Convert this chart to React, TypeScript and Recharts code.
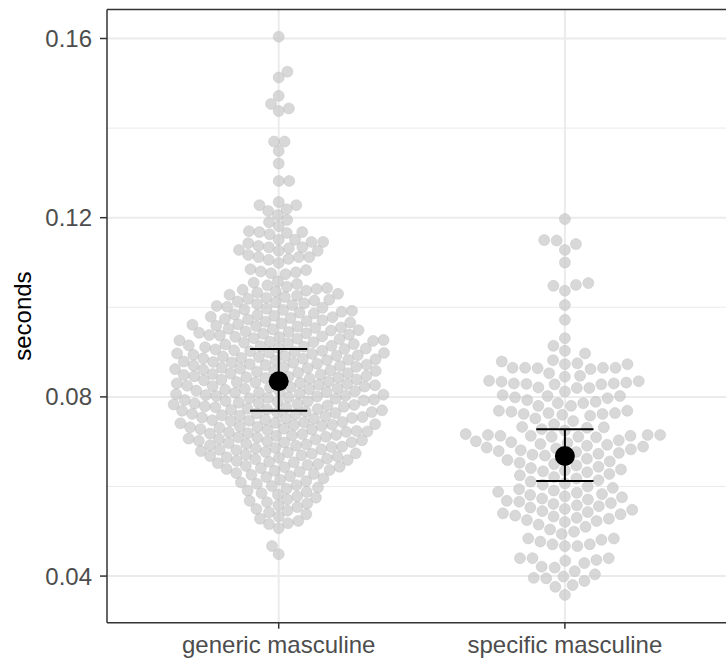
import React from "react";
import {
  ScatterChart,
  Scatter,
  XAxis,
  YAxis,
  CartesianGrid,
  ReferenceLine,
} from "recharts";

// conditions on the x axis
const conditions = ["generic masculine", "specific masculine"];

const genericSeconds = [
  0.1604, 0.1526, 0.1513, 0.1472, 0.1454, 0.1444, 0.1438, 0.137, 0.137, 0.1349,
  0.1321, 0.1282, 0.1282, 0.1235, 0.1228, 0.1228, 0.1219, 0.1215, 0.1206, 0.1195,
  0.119, 0.1181, 0.117, 0.1168, 0.1168, 0.1166, 0.1163, 0.1151, 0.1151, 0.1146,
  0.1146, 0.1143, 0.1137, 0.1134, 0.1134, 0.1132, 0.1128, 0.1126, 0.1126, 0.1117,
  0.1112, 0.1112, 0.1112, 0.1108, 0.1106, 0.1099, 0.1085, 0.1083, 0.108, 0.1078,
  0.1076, 0.1074,
  0.1058, 0.1055, 0.1052, 0.1049, 0.1046, 0.1043, 0.1041,
  0.1039, 0.1037, 0.1035, 0.1033, 0.103, 0.1028, 0.1026, 0.1023, 0.1021,
  0.1019, 0.1017, 0.1015, 0.1013, 0.1011, 0.1009, 0.1007, 0.1005, 0.1003, 0.1001,
  0.0999, 0.0997, 0.0995, 0.0994, 0.0992, 0.099, 0.0988, 0.0986, 0.0984, 0.0983, 0.0981,
  0.0979, 0.0978, 0.0976, 0.0974, 0.0973, 0.0971, 0.0969, 0.0968, 0.0966, 0.0964, 0.0962, 0.0961,
  0.0959, 0.0958, 0.0957, 0.0955, 0.0954, 0.0952, 0.0951, 0.0949, 0.0948, 0.0946, 0.0945, 0.0943,
  0.0942, 0.0941,
  0.0939, 0.0938, 0.0937, 0.0935, 0.0934, 0.0933, 0.0931, 0.093, 0.0929, 0.0927, 0.0926, 0.0925,
  0.0923, 0.0922, 0.0921,
  0.0919, 0.0918, 0.0917, 0.0915, 0.0914, 0.0913, 0.0912, 0.0911, 0.0909, 0.0908, 0.0907, 0.0906,
  0.0904, 0.0903, 0.0902, 0.0901,
  0.0899, 0.0898, 0.0897, 0.0896, 0.0894, 0.0893, 0.0892, 0.0891, 0.089, 0.0889, 0.0887, 0.0886,
  0.0885, 0.0884, 0.0883, 0.0882, 0.0881,
  0.0879, 0.0878, 0.0877, 0.0876, 0.0874, 0.0873, 0.0872, 0.0871, 0.087, 0.0869, 0.0867, 0.0866,
  0.0865, 0.0864, 0.0863, 0.0862, 0.0861,
  0.0859, 0.0858, 0.0857, 0.0856, 0.0854, 0.0853, 0.0852, 0.0851, 0.085, 0.0849, 0.0847, 0.0846,
  0.0845, 0.0844, 0.0843, 0.0842, 0.0841,
  0.0839, 0.0838, 0.0837, 0.0836, 0.0834, 0.0833, 0.0832, 0.0831, 0.083, 0.0829, 0.0827, 0.0826,
  0.0825, 0.0824, 0.0823, 0.0822, 0.0821,
  0.0819, 0.0818, 0.0817, 0.0816, 0.0814, 0.0813, 0.0812, 0.0811, 0.081, 0.0809, 0.0807, 0.0806,
  0.0805, 0.0804, 0.0803, 0.0802, 0.0801,
  0.0799, 0.0798, 0.0797, 0.0796, 0.0794, 0.0793, 0.0792, 0.0791, 0.079, 0.0789, 0.0787, 0.0786,
  0.0785, 0.0784, 0.0783, 0.0782, 0.0781,
  0.0779, 0.0778, 0.0777, 0.0776, 0.0774, 0.0773, 0.0772, 0.0771, 0.077, 0.0769, 0.0767, 0.0766,
  0.0765, 0.0764, 0.0763, 0.0762, 0.0761,
  0.0759, 0.0758, 0.0757, 0.0755, 0.0754, 0.0753, 0.0752, 0.0751, 0.0749, 0.0748, 0.0747, 0.0746,
  0.0744, 0.0743, 0.0742, 0.0741,
  0.0739, 0.0738, 0.0737, 0.0735, 0.0734, 0.0733, 0.0732, 0.0731, 0.0729, 0.0728, 0.0727, 0.0726,
  0.0724, 0.0723, 0.0722, 0.0721,
  0.0719, 0.0718, 0.0717, 0.0715, 0.0714, 0.0713, 0.0711, 0.071, 0.0709, 0.0707, 0.0706, 0.0705,
  0.0703, 0.0702, 0.0701,
  0.0699, 0.0698, 0.0697, 0.0695, 0.0694, 0.0692, 0.0691, 0.0689, 0.0688, 0.0686, 0.0685, 0.0683,
  0.0682, 0.0681,
  0.0679, 0.0677, 0.0676, 0.0674, 0.0673, 0.0671, 0.067, 0.0668, 0.0667, 0.0665, 0.0664, 0.0662, 0.0661,
  0.0659, 0.0657, 0.0655, 0.0654, 0.0652, 0.065, 0.0648, 0.0646, 0.0644, 0.0643, 0.0641,
  0.0639, 0.0637, 0.0635, 0.0633, 0.063, 0.0628, 0.0626, 0.0623, 0.0621,
  0.0618, 0.0615, 0.0612, 0.0609, 0.0606, 0.0603, 0.0601,
  0.0598, 0.0595, 0.0591, 0.0588, 0.0585, 0.0582,
  0.0578, 0.0575, 0.0571, 0.0568, 0.0565, 0.0562,
  0.0558, 0.0554, 0.055, 0.0546, 0.0542,
  0.0538, 0.0533, 0.0528, 0.0523,
  0.0518, 0.0516, 0.0507,
  0.0467, 0.0449,
];

const specificSeconds = [
  0.1197, 0.115, 0.1149, 0.1141, 0.1128, 0.11, 0.1054, 0.105, 0.1048, 0.1037,
  0.1005, 0.0972, 0.0931, 0.0914, 0.0903,
  0.0897, 0.0882, 0.0879, 0.0875, 0.0873, 0.0873, 0.0865, 0.0865, 0.0865, 0.0865,
  0.0864, 0.0862, 0.0853, 0.0847, 0.0845, 0.0836, 0.0835, 0.0834, 0.0832, 0.083,
  0.083, 0.0829, 0.0828, 0.0828, 0.0821, 0.082, 0.082, 0.0812, 0.0804, 0.0802,
  0.0802, 0.0799, 0.0797, 0.0793, 0.0789, 0.0786, 0.0786, 0.078, 0.078, 0.0769,
  0.0769, 0.0767, 0.0764, 0.0764, 0.0762, 0.0762, 0.076, 0.0758, 0.0752, 0.0746,
  0.0739, 0.0733, 0.0732, 0.0731, 0.0728, 0.0725, 0.0717, 0.0715, 0.0715, 0.0715,
  0.0713, 0.0713, 0.0713, 0.0711, 0.0711, 0.071,
  0.0703, 0.0701, 0.0699, 0.0697, 0.0695, 0.0693, 0.0691, 0.0689, 0.0687, 0.0685,
  0.0683, 0.0681, 0.0679, 0.0677, 0.0675, 0.0673, 0.0671, 0.0669,
  0.0665, 0.0662, 0.0659, 0.0656, 0.0653, 0.065, 0.0647, 0.0644, 0.0641, 0.0638,
  0.0636, 0.0634, 0.0632,
  0.0628, 0.0625, 0.0621, 0.0618, 0.0614, 0.0611, 0.0607, 0.0604, 0.06, 0.0597, 0.0594,
  0.0591, 0.0588, 0.0586, 0.0583, 0.0581, 0.0578, 0.0576, 0.0573, 0.0571, 0.0568,
  0.0566, 0.0563, 0.0561, 0.0558, 0.0556,
  0.0553, 0.055, 0.0548, 0.0545, 0.0543, 0.054, 0.0538, 0.0535, 0.0533, 0.053,
  0.0528, 0.0525, 0.0523, 0.0521,
  0.0515, 0.051, 0.0504, 0.0499, 0.0494,
  0.0484, 0.0471, 0.0467, 0.0477, 0.0484, 0.0471, 0.0467, 0.0481,
  0.044, 0.0429, 0.0419, 0.0436, 0.044, 0.0434, 0.0421, 0.044,
  0.0404, 0.0389, 0.0376, 0.0396, 0.0411, 0.0395, 0.038, 0.0399, 0.0358,
];

// condition means with interval bounds
const means = [0.0835, 0.0668];
const lower = [0.0769, 0.0612];
const upper = [0.0907, 0.0728];

const yTicks = [0.04, 0.08, 0.12, 0.16];
const yMinorTicks = [0.06, 0.1, 0.14];

const Y_MIN = 0.029594;
const Y_MAX = 0.166473;
const CHART_W = 760;
const CHART_H = 659;
const PLOT_W = 629.6;
const PLOT_H = 613.2;
const PX_X = PLOT_W / 2.2;
const PX_Y = PLOT_H / (Y_MAX - Y_MIN);
const CAP_HALF = 0.1; // half width of the interval caps, in x units

const font = "'Liberation Sans', Arial, Helvetica, sans-serif";

// beeswarm layout: place points in ascending order, each as close to the
// centre line as possible without coming closer than `spacing` to earlier ones
function swarmOffsets(values: number[], spacing: number): number[] {
  const order = values.map((_, i) => i).sort((a, b) => values[a] - values[b]);
  const placed: { x: number; y: number }[] = [];
  const offsets = new Array(values.length).fill(0);
  let side = 1;
  for (const i of order) {
    const y = values[i] * PX_Y;
    const near = placed.filter((p) => Math.abs(p.y - y) < spacing);
    const cands = [0];
    near.forEach((p) => {
      const dx = Math.sqrt(spacing * spacing - (p.y - y) ** 2);
      cands.push(p.x + dx, p.x - dx);
    });
    cands.sort((a, b) => Math.abs(a) - Math.abs(b) || (b - a) * side);
    const free = (c: number) =>
      near.every((p) => (p.x - c) ** 2 + (p.y - y) ** 2 >= spacing * spacing - 0.01);
    const x = cands.find(free) ?? 0;
    placed.push({ x, y });
    offsets[i] = x / PX_X;
    side = -side;
  }
  return offsets;
}

const genericOff = swarmOffsets(genericSeconds, 10.5);
const specificOff = swarmOffsets(specificSeconds, 12.5);
const genericPts = genericSeconds.map((v, i) => ({ x: 1 + genericOff[i], y: v }));
const specificPts = specificSeconds.map((v, i) => ({ x: 2 + specificOff[i], y: v }));
const meanPts = means.map((m, i) => ({ x: i + 1, y: m }));
const intervals = means.map((_, i) => [
  { x: i + 1, y: lower[i], w: CAP_HALF },
  { x: i + 1, y: upper[i], w: CAP_HALF },
]);

const GrayDot = (props: any) => (
  <circle
    cx={props.cx}
    cy={props.cy}
    r={5.5}
    fill="#c8c8c8"
    fillOpacity={0.7}
    stroke="#bdbdbd"
    strokeOpacity={0.5}
    strokeWidth={0.8}
  />
);

const Cap = (props: any) => {
  const half = props.payload.w * PX_X;
  return (
    <line
      x1={props.cx - half}
      x2={props.cx + half}
      y1={props.cy}
      y2={props.cy}
      stroke="#000"
      strokeWidth={2}
    />
  );
};

const MeanDot = (props: any) => <circle cx={props.cx} cy={props.cy} r={10} fill="#000" />;

export default function App() {
  return (
    <div
      style={{
        position: "fixed",
        left: 0,
        top: 0,
        width: 726,
        height: 659,
        overflow: "hidden",
        background: "#fff",
      }}
    >
      <ScatterChart
        width={CHART_W}
        height={CHART_H}
        margin={{ top: 9.5, right: CHART_W - 107 - PLOT_W, bottom: 0, left: 0 }}
      >
        <CartesianGrid
          horizontalValues={yMinorTicks}
          vertical={false}
          stroke="#ebebeb"
          strokeWidth={1}
        />
        <CartesianGrid
          horizontalValues={yTicks}
          verticalValues={[1, 2]}
          stroke="#ebebeb"
          strokeWidth={2}
        />
        <XAxis
          type="number"
          dataKey="x"
          domain={[0.4, 2.6]}
          ticks={[1, 2]}
          interval={0}
          allowDataOverflow
          tickFormatter={(v: number) => conditions[v - 1]}
          height={CHART_H - 9.5 - PLOT_H}
          tickSize={6}
          tickMargin={7}
          tick={{ fontSize: 24, fill: "#4d4d4d", fontFamily: font }}
          axisLine={{ stroke: "#333", strokeWidth: 1.5 }}
          tickLine={{ stroke: "#333", strokeWidth: 1.5 }}
        />
        <YAxis
          type="number"
          dataKey="y"
          domain={[Y_MIN, Y_MAX]}
          ticks={yTicks}
          interval={0}
          allowDataOverflow
          tickFormatter={(v: number) => v.toFixed(2)}
          width={107}
          tickSize={7}
          tickMargin={8}
          tick={{ fontSize: 24, fill: "#4d4d4d", fontFamily: font }}
          axisLine={{ stroke: "#333", strokeWidth: 1.5 }}
          tickLine={{ stroke: "#333", strokeWidth: 1.5 }}
          label={{
            value: "seconds",
            angle: -90,
            position: "center",
            dx: -31,
            style: { fontSize: 24, fill: "#000", fontFamily: font, textAnchor: "middle" },
          }}
        />
        <ReferenceLine y={Y_MAX} stroke="#333" strokeWidth={1.5} />
        <Scatter data={genericPts} shape={GrayDot} isAnimationActive={false} />
        <Scatter data={specificPts} shape={GrayDot} isAnimationActive={false} />
        {intervals.map((seg, i) => (
          <Scatter
            key={i}
            data={seg}
            shape={Cap}
            line={{ stroke: "#000", strokeWidth: 2 }}
            isAnimationActive={false}
          />
        ))}
        <Scatter data={meanPts} shape={MeanDot} isAnimationActive={false} />
      </ScatterChart>
    </div>
  );
}
